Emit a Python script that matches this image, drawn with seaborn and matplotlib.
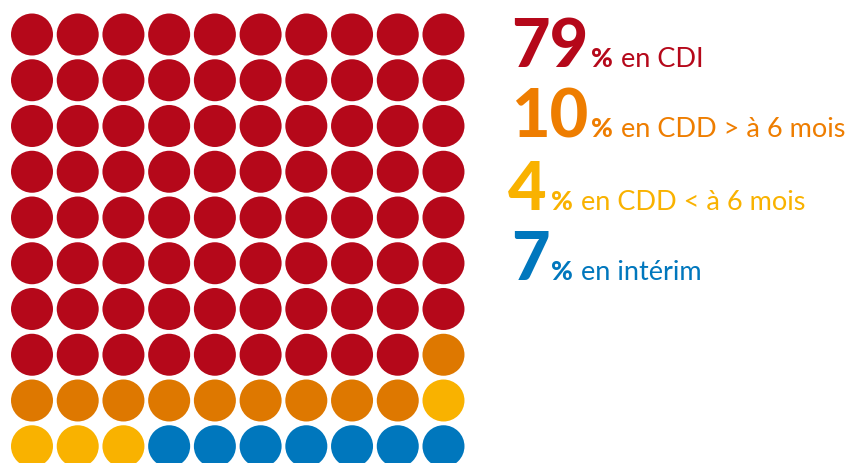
import matplotlib
matplotlib.use("Agg")
import matplotlib.pyplot as plt
import seaborn as sns
import pandas as pd
import numpy as np

# Data
categories = ["CDI", "CDD > 6 mois", "CDD < 6 mois", "Intérim"]
percent_values = [79, 10, 4, 7]
label_texts = ["en CDI", "en CDD > à 6 mois", "en CDD < à 6 mois", "en intérim"]
dot_colors = ["#B5081A", "#DE7800", "#F9B200", "#0077BD"]
text_colors = ["#B5081A", "#EE7D00", "#F9B200", "#0077BD"]

sns.set_theme(style="white")
plt.rcParams["font.family"] = ["Lato", "DejaVu Sans"]

W, H = 847, 463
fig = plt.figure(figsize=(W / 100, H / 100), dpi=100)

# waffle data: 10 x 10 grid, filled row by row
cells = []
for cat, v in zip(categories, percent_values):
    cells += [cat] * v
df = pd.DataFrame({
    "col": [i % 10 for i in range(100)],
    "row": [i // 10 for i in range(100)],
    "cat": cells,
})

# axes placement in pixels: unit ~45.7 px, col 0 centered at x=32, row 0 at y=34.5
ux, uy = 45.72, 45.75
left_px = 32 - 0.5 * ux
top_px = 34.5 - 0.5 * uy
ax = fig.add_axes([left_px / W, 1 - (top_px + 10 * uy) / H, 10 * ux / W, 10 * uy / H])
sns.scatterplot(data=df, x="col", y="row", hue="cat", hue_order=categories,
                palette=dot_colors, s=(42 * 0.72) ** 2, linewidth=0,
                legend=False, ax=ax, clip_on=False)
ax.set_xlim(-0.5, 9.5)
ax.set_ylim(9.5, -0.5)
ax.set_axis_off()

# text block
baselines = [67, 137, 210, 280]
num_x = [511, 511, 508, 511]
pct_x = [591, 591, 551, 551]
txt_x = [621, 621, 581, 581]
for i in range(4):
    yb = 1 - baselines[i] / H
    fig.text(num_x[i] / W, yb, str(percent_values[i]), color=text_colors[i],
             fontsize=48, fontweight="black", va="baseline", ha="left")
    fig.text(pct_x[i] / W, yb, "%", color=text_colors[i],
             fontsize=19, fontweight="black", va="baseline", ha="left")
    fig.text(txt_x[i] / W, yb, label_texts[i], color=text_colors[i],
             fontsize=19.5, va="baseline", ha="left")

fig.savefig("out.png", dpi=100)
